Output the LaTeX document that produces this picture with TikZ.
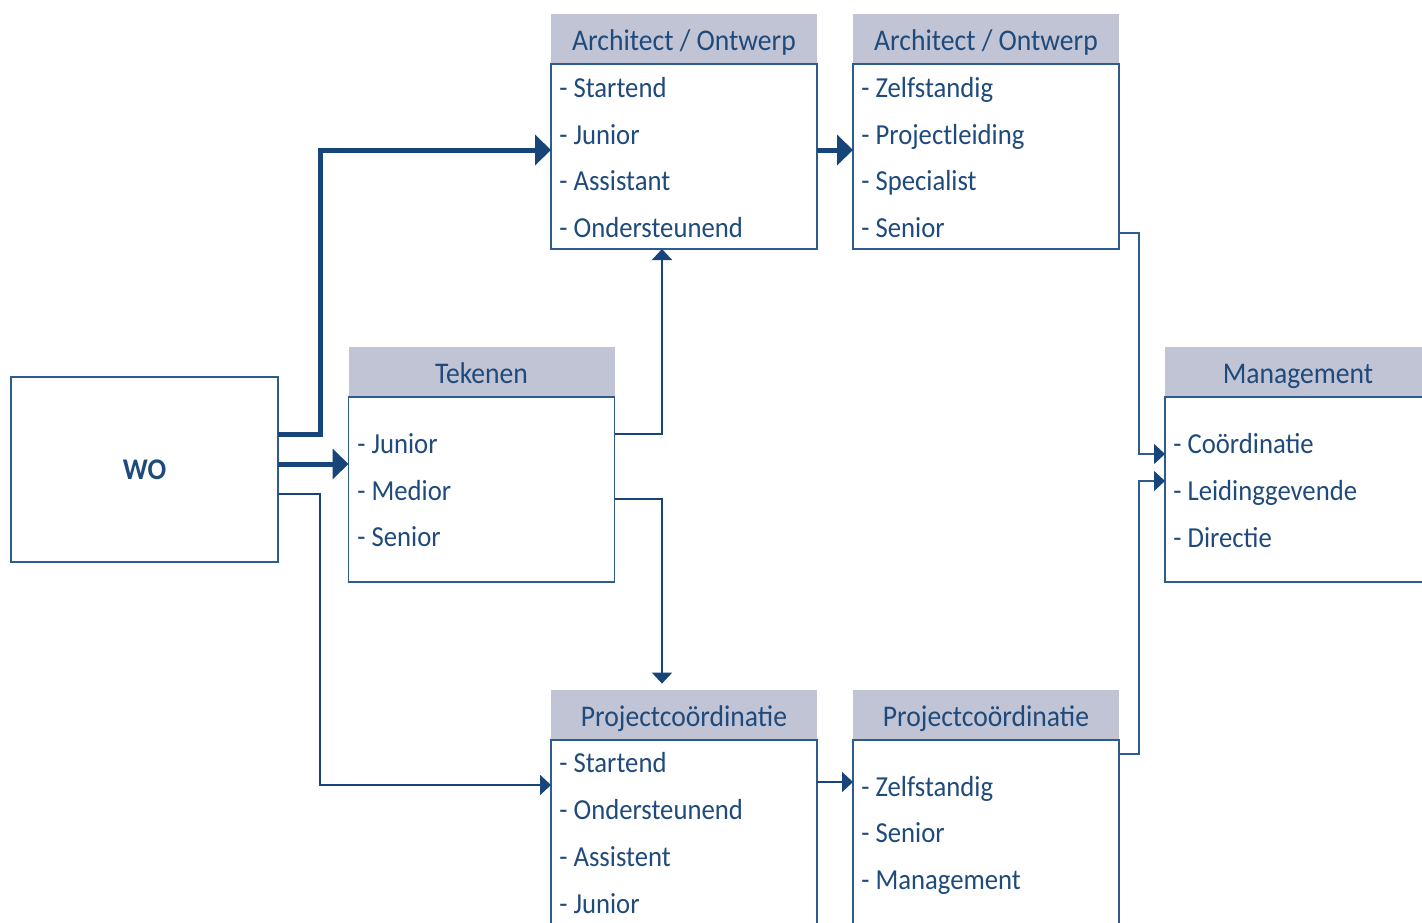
\documentclass[tikz,border=0pt]{standalone}
\usepackage{fontspec}
\setmainfont{Carlito}[FakeStretch=0.92]
\usetikzlibrary{arrows.meta}
\definecolor{hdrgrey}{RGB}{193,196,212}
\definecolor{navy}{RGB}{31,74,124}
\definecolor{boxline}{RGB}{46,92,140}
\definecolor{linkblue}{RGB}{23,68,121}
\begin{document}
\begin{tikzpicture}[x=0.5pt,y=-0.5pt,
  hdr/.style={fill=hdrgrey,minimum width=133pt,minimum height=25pt,inner sep=0pt,text height=11pt,text depth=0pt,text=navy,font=\fontsize{15}{18}\selectfont},
  body/.style={draw=boxline,line width=0.75pt,minimum width=133pt,inner sep=0pt,outer sep=0pt},
  item/.style={anchor=mid west,yshift=-2.5pt,inner sep=0pt,text=navy,font=\fontsize{14.5}{17}\selectfont},
  big link/.style={draw=linkblue,line width=2.5pt,-{Triangle[length=8pt,width=15pt]}},
  small link/.style={draw=linkblue,line width=1pt,-{Triangle[length=5.5pt,width=10pt]}},
  thin link/.style={draw=boxline,line width=0.6pt,-{Triangle[length=5.5pt,width=10pt,fill=linkblue,color=linkblue]}}]
 \useasboundingbox (0,0) rectangle (1422,922);
 \clip (0,0) rectangle (1422,922);
 % start
 \node (wo) at (144.5,469.5) [body,minimum width=133.5pt,minimum height=92.5pt,text=navy,font=\fontsize{15}{18}\selectfont\bfseries] {WO};
 % architect / ontwerp, first step
 \node (arch1 hdr) at (684,39) [hdr] {Architect / Ontwerp};
 \node (arch1 body) at (684,156.5) [body,minimum height=92.5pt] {};
 \node (arch1 item 1) at (559,88) [item] {- Startend};
 \node (arch1 item 2) at (559,134.5) [item] {- Junior};
 \node (arch1 item 3) at (559,181) [item] {- Assistant};
 \node (arch1 item 4) at (559,228) [item] {- Ondersteunend};
 % architect / ontwerp, second step
 \node (arch2 hdr) at (986,39) [hdr] {Architect / Ontwerp};
 \node (arch2 body) at (986,156.5) [body,minimum height=92.5pt] {};
 \node (arch2 item 1) at (861,88) [item] {- Zelfstandig};
 \node (arch2 item 2) at (861,134.5) [item] {- Projectleiding};
 \node (arch2 item 3) at (861,181) [item] {- Specialist};
 \node (arch2 item 4) at (861,228) [item] {- Senior};
 % tekenen
 \node (tek hdr) at (481.5,372) [hdr] {Tekenen};
 \node (tek body) at (481.5,489.5) [body,minimum height=92.5pt] {};
 \node (tek item 1) at (357,444) [item] {- Junior};
 \node (tek item 2) at (357,491) [item] {- Medior};
 \node (tek item 3) at (357,537) [item] {- Senior};
 % management
 \node (mgmt hdr) at (1298,372) [hdr] {Management};
 \node (mgmt body) at (1298,489.5) [body,minimum height=92.5pt] {};
 \node (mgmt item 1) at (1173,444) [item] {- Coördinatie};
 \node (mgmt item 2) at (1173,491) [item] {- Leidinggevende};
 \node (mgmt item 3) at (1173,538) [item] {- Directie};
 % projectcoordinatie, first step
 \node (proj1 hdr) at (684,715) [hdr] {Projectcoördinatie};
 \node (proj1 body) at (684,860) [body,minimum height=120pt] {};
 \node (proj1 item 1) at (559,763) [item] {- Startend};
 \node (proj1 item 2) at (559,810) [item] {- Ondersteunend};
 \node (proj1 item 3) at (559,857) [item] {- Assistent};
 \node (proj1 item 4) at (559,904) [item] {- Junior};
 % projectcoordinatie, second step
 \node (proj2 hdr) at (986,715) [hdr] {Projectcoördinatie};
 \node (proj2 body) at (986,860) [body,minimum height=120pt] {};
 \node (proj2 item 1) at (861,787) [item] {- Zelfstandig};
 \node (proj2 item 2) at (861,833) [item] {- Senior};
 \node (proj2 item 3) at (861,880) [item] {- Management};
 % links
 \draw[big link] ([yshift=17.75pt]wo.east) -- ++(42,0) |- ([yshift=3.25pt]arch1 body.west);
 \draw[big link] ([yshift=2.75pt]wo.east) -- ([yshift=12.75pt]tek body.west);
 \draw[small link] ([yshift=-12.25pt]wo.east) -- ++(42,0) |- ([yshift=-22.5pt]proj1 body.north west);
 \draw[big link] ([yshift=3.25pt]arch1 body.east) -- ([yshift=3.25pt]arch2 body.west);
 \draw[small link] ([yshift=27.75pt]tek body.east) -| ([xshift=-11pt]arch1 body.south);
 \draw[small link] ([yshift=-4.75pt]tek body.east) -| ([xshift=-11pt,yshift=3pt]proj1 hdr.north);
 \draw[small link] ([yshift=-21pt]proj1 body.north east) -- ([yshift=-21pt]proj2 body.north west);
 \draw[thin link] ([yshift=8pt]arch2 body.south east) -- ++(20,0) |- ([yshift=-28.5pt]mgmt body.north west);
 \draw[thin link] ([yshift=-7pt]proj2 body.north east) -- ++(20,0) |- ([yshift=-42pt]mgmt body.north west);
\end{tikzpicture}
\end{document}
